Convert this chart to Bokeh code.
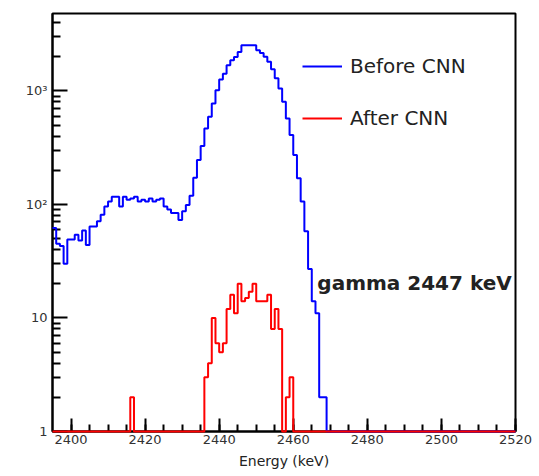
import numpy as np
from bokeh.plotting import figure
from bokeh.models import Range1d, FixedTicker, Legend, LegendItem, Label
from bokeh.embed import file_html
from bokeh.resources import INLINE

# ---- data (1 keV bins starting at 2395 keV) ----
bin_low = 2395
bin_high = 2520

# "Before CNN" counts, bins 2395 ... 2468 (later bins empty)
before_cnn = [62, 45, 43, 30, 49, 49, 54, 48, 59, 44,
              64, 64, 71, 81, 96, 106, 117, 117, 96, 117,
              110, 113, 117, 106, 110, 106, 113, 106, 110, 113,
              96, 90, 84, 84, 73, 87, 99, 119, 172, 246,
              327, 467, 592, 774, 1014, 1256, 1418, 1680, 1858, 1985,
              2196, 2516, 2516, 2516, 2516, 2275, 2150, 2000, 1800, 1550,
              1290, 1050, 800, 570, 409, 273, 170, 106, 58, 27,
              14, 11, 2, 2]

# "After CNN" counts, bins 2395 ... 2459 (later bins empty)
after_cnn = [0] * 21 + [2] + [0] * 19 + [3, 4, 10, 6, 5, 6, 12, 16, 11, 20,
                                          14, 15, 17, 20, 14, 14, 14, 16, 8, 12,
                                          8, 0, 2, 3]

x_major = [2400, 2420, 2440, 2460, 2480, 2500, 2520]
y_major = [1, 10, 100, 1000]
y_labels = {1: "1", 10: "10", 100: "10²", 1000: "10³"}

FONT = "DejaVu Sans"

n_bins = bin_high - bin_low
edges = np.arange(bin_low, bin_high + 1)


def step_values(counts):
    c = np.zeros(n_bins)
    c[:len(counts)] = counts
    c = np.where(c < 1, 1, c)  # empty bins drawn on the frame bottom (log axis)
    return np.append(c, c[-1])


p = figure(width=539, height=476, output_backend="svg", toolbar_location=None,
           y_axis_type="log", x_range=Range1d(2395, 2520), y_range=Range1d(1, 4800),
           min_border_left=52, min_border_right=24, min_border_top=13, min_border_bottom=45)
p.background_fill_color = "white"
p.border_fill_color = "white"
p.outline_line_color = "black"
p.outline_line_width = 2
p.xgrid.visible = False
p.ygrid.visible = False

r_before = p.step(edges, step_values(before_cnn), mode="after", line_color="#0000ff",
                  line_width=2, level="overlay")
r_after = p.step(edges, step_values(after_cnn), mode="after", line_color="#ff0000",
                 line_width=2, level="overlay")

# axes
xa = p.xaxis[0]
xa.ticker = FixedTicker(ticks=x_major, minor_ticks=list(range(2400, 2521, 5)))
xa.axis_label = "Energy (keV)"
xa.axis_label_text_font = FONT
xa.axis_label_text_font_size = "14px"
xa.axis_label_text_font_style = "normal"
xa.axis_label_text_color = "#222222"
xa.axis_label_standoff = 6
xa.major_label_text_font = FONT
xa.major_label_text_font_size = "13px"
xa.major_label_text_color = "#333333"
xa.major_label_standoff = 3
xa.major_tick_in = 13
xa.major_tick_out = 0
xa.minor_tick_in = 7
xa.minor_tick_out = 0
xa.axis_line_width = 2
xa.major_tick_line_width = 2
xa.minor_tick_line_width = 2

ya = p.yaxis[0]
y_minor = [m * d for d in (1, 10, 100, 1000) for m in range(2, 10) if m * d < 4800]
ya.ticker = FixedTicker(ticks=y_major, minor_ticks=y_minor)
ya.major_label_overrides = y_labels
ya.major_label_text_font = FONT
ya.major_label_text_font_size = "13px"
ya.major_label_text_color = "#333333"
ya.major_label_standoff = 5
ya.major_tick_in = 15
ya.major_tick_out = 0
ya.minor_tick_in = 8
ya.minor_tick_out = 0
ya.axis_line_width = 2
ya.major_tick_line_width = 2
ya.minor_tick_line_width = 2

# legend
legend = Legend(items=[LegendItem(label="Before CNN", renderers=[r_before]),
                       LegendItem(label="After CNN", renderers=[r_after])],
                location=(250, 301))
legend.label_text_font = FONT
legend.label_text_font_size = "20px"
legend.label_text_color = "#222222"
legend.glyph_width = 40
legend.glyph_height = 24
legend.label_height = 24
legend.label_standoff = 8
legend.spacing = 28
legend.padding = 0
legend.margin = 0
legend.border_line_color = None
legend.background_fill_alpha = 0
p.add_layout(legend)

p.add_layout(Label(x=2466.5, y=20.3, text="gamma 2447 keV", text_font=FONT,
                   text_font_size="20px", text_font_style="bold", text_color="#222222",
                   text_baseline="alphabetic", text_align="left"))

open("out.html", "w").write(file_html(p, INLINE))
